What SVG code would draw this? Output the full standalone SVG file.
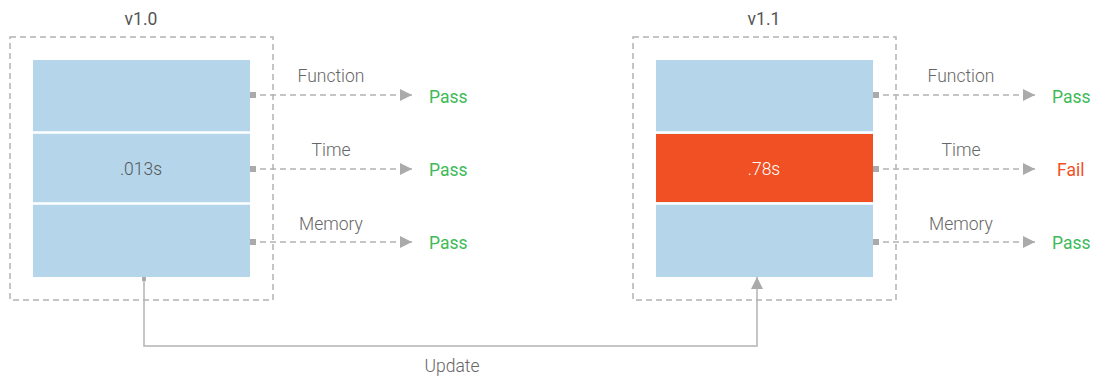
<svg xmlns="http://www.w3.org/2000/svg" width="1102" height="377" viewBox="0 0 1102 377">
<style>
text{font-family:Roboto,"Liberation Sans",sans-serif;font-size:17.5px;font-weight:300}
.frame{fill:none;stroke:#b3b3b3;stroke-width:1.5;stroke-dasharray:6 4}
.row{fill:#b5d5eb}
.fail{fill:#f05023}
.sep{stroke:#fff;stroke-width:2.5}
.lbl{fill:#666;text-anchor:middle}
.ttl{fill:#555;text-anchor:middle;font-weight:400}
.in{text-anchor:middle}
.pass{fill:#3dba57;font-weight:400}
.failt{fill:#f05023;font-weight:400}
.dash{fill:none;stroke:#b3b3b3;stroke-width:1.5;stroke-dasharray:6 4}
.solid{fill:none;stroke:#b3b3b3;stroke-width:1.5}
</style>
<defs>
<marker id="arr" viewBox="0 0 10 10" refX="10" refY="5" markerWidth="18" markerHeight="12" markerUnits="userSpaceOnUse" orient="auto"><path d="M0,0L10,5L0,10z" fill="#aaa"/></marker>
<marker id="sq" viewBox="0 0 4 4" refX="0" refY="2" markerWidth="6" markerHeight="6" markerUnits="userSpaceOnUse" orient="auto"><rect width="4" height="4" fill="#aaa"/></marker>
</defs>
<g id="v10">
<text class="ttl" x="141" y="25">v1.0</text>
<rect class="frame" x="10" y="37" width="263" height="263"/>
<rect class="row" x="33" y="60" width="217" height="217"/>
<line class="sep" x1="33" y1="132.5" x2="250" y2="132.5"/>
<line class="sep" x1="33" y1="203.5" x2="250" y2="203.5"/>
<text class="in" x="141" y="175" fill="#555">.013s</text>
</g>
<g id="v11">
<text class="ttl" x="764" y="25">v1.1</text>
<rect class="frame" x="633" y="37" width="263" height="263"/>
<rect class="row" x="656" y="60" width="217" height="217"/>
<rect class="fail" x="656" y="134" width="217" height="68"/>
<line class="sep" x1="656" y1="132.5" x2="873" y2="132.5"/>
<line class="sep" x1="656" y1="203.5" x2="873" y2="203.5"/>
<text class="in" x="764" y="175" fill="#fff">.78s</text>
</g>
<g id="connectors">
<path class="dash" d="M250,95H412" marker-start="url(#sq)" marker-end="url(#arr)"/>
<path class="dash" d="M250,169H412" marker-start="url(#sq)" marker-end="url(#arr)"/>
<path class="dash" d="M250,242H412" marker-start="url(#sq)" marker-end="url(#arr)"/>
<path class="dash" d="M873,95H1035" marker-start="url(#sq)" marker-end="url(#arr)"/>
<path class="dash" d="M873,169H1035" marker-start="url(#sq)" marker-end="url(#arr)"/>
<path class="dash" d="M873,242H1035" marker-start="url(#sq)" marker-end="url(#arr)"/>
<path class="solid" d="M144,277V346H757V277" marker-end="url(#arr)"/>
<rect x="142" y="277" width="4" height="4" fill="#aaa"/>
<text class="lbl" x="331" y="82">Function</text>
<text class="lbl" x="331" y="156">Time</text>
<text class="lbl" x="331" y="230">Memory</text>
<text class="lbl" x="961" y="82">Function</text>
<text class="lbl" x="961" y="156">Time</text>
<text class="lbl" x="961" y="230">Memory</text>
<text class="pass" x="429" y="103">Pass</text>
<text class="pass" x="429" y="176">Pass</text>
<text class="pass" x="429" y="249">Pass</text>
<text class="pass" x="1052" y="103">Pass</text>
<text class="failt" x="1057" y="176">Fail</text>
<text class="pass" x="1052" y="249">Pass</text>
<text class="lbl" x="452" y="372">Update</text>
</g>
</svg>
